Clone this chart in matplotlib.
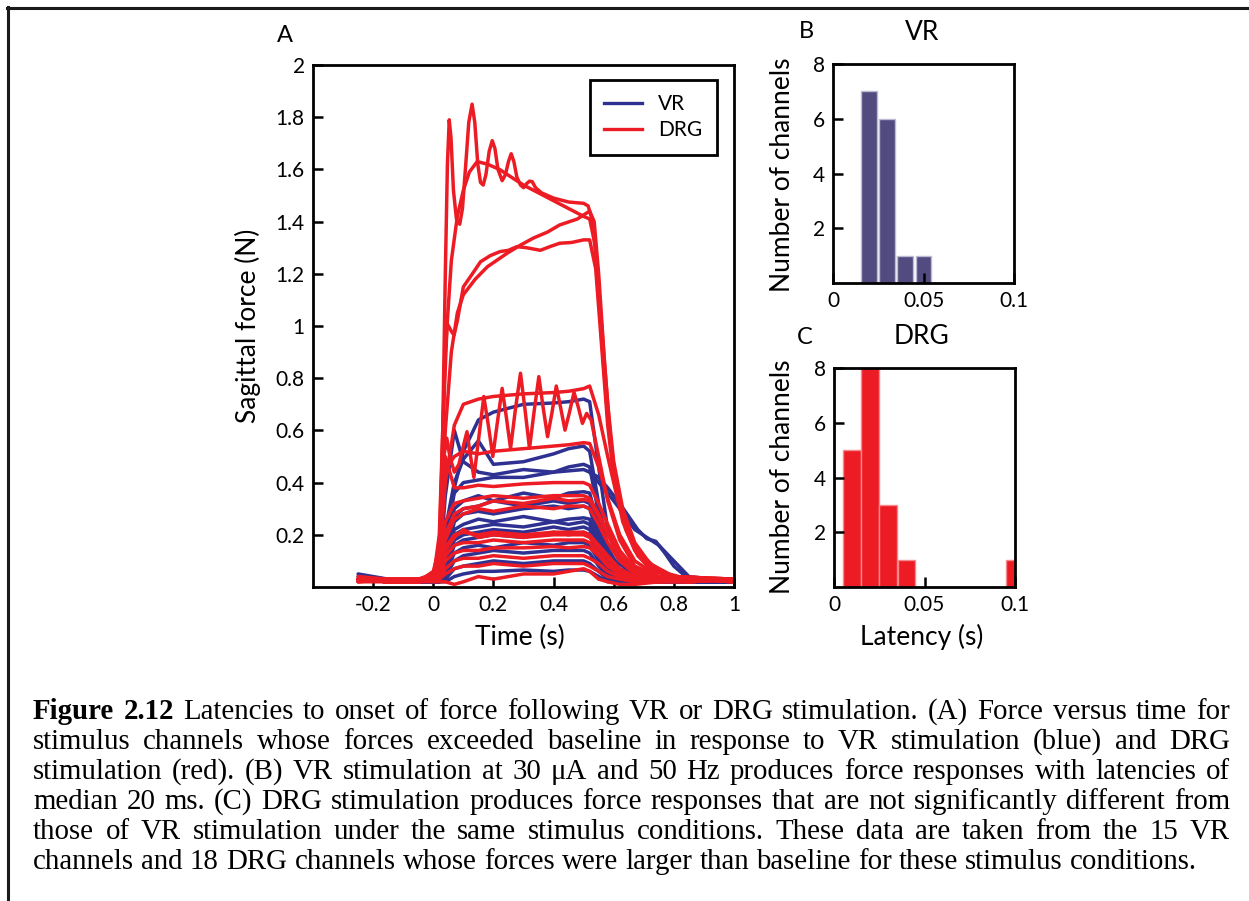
import matplotlib
matplotlib.use('Agg')
import matplotlib.pyplot as plt
from matplotlib.lines import Line2D

plt.rcParams['font.family'] = ['Lato', 'DejaVu Sans']

W, H = 1249, 901

# ---- panel A: force traces (s, N) ----
grid_t = [-0.25, -0.15, -0.05, 0.0, 0.02, 0.04, 0.07, 0.1, 0.15, 0.2, 0.3,
          0.4, 0.45, 0.5, 0.52, 0.55, 0.58, 0.62, 0.67, 0.75, 0.85, 1.0]

vr_force = [
    [0.05, 0.03, 0.02, 0.02, 0.03, 0.14, 0.38, 0.52, 0.64, 0.67, 0.70, 0.705, 0.71, 0.72, 0.71, 0.46, 0.22, 0.09, 0.04, 0.03, 0.02, 0.02],
    [0.04, 0.03, 0.02, 0.02, 0.05, 0.35, 0.60, 0.48, 0.44, 0.43, 0.45, 0.44, 0.46, 0.47, 0.46, 0.28, 0.13, 0.06, 0.03, 0.03, 0.02, 0.02],
    [0.03, 0.02, 0.02, 0.02, 0.04, 0.22, 0.40, 0.49, 0.56, 0.47, 0.48, 0.51, 0.53, 0.54, 0.52, 0.32, 0.15, 0.07, 0.04, 0.03, 0.02, 0.02],
    [0.03, 0.02, 0.02, 0.02, 0.03, 0.18, 0.36, 0.40, 0.41, 0.42, 0.42, 0.44, 0.445, 0.45, 0.44, 0.40, 0.36, 0.30, 0.22, 0.16, 0.04, 0.02],
    [0.03, 0.02, 0.02, 0.02, 0.03, 0.15, 0.30, 0.33, 0.35, 0.33, 0.36, 0.34, 0.36, 0.365, 0.36, 0.23, 0.11, 0.05, 0.03, 0.02, 0.02, 0.02],
    [0.03, 0.02, 0.02, 0.02, 0.03, 0.12, 0.27, 0.30, 0.31, 0.33, 0.31, 0.33, 0.32, 0.33, 0.32, 0.21, 0.10, 0.05, 0.03, 0.02, 0.02, 0.02],
    [0.03, 0.02, 0.02, 0.02, 0.03, 0.10, 0.25, 0.28, 0.29, 0.28, 0.30, 0.31, 0.30, 0.31, 0.30, 0.19, 0.09, 0.04, 0.03, 0.02, 0.02, 0.02],
    [0.03, 0.02, 0.02, 0.02, 0.03, 0.09, 0.22, 0.24, 0.26, 0.25, 0.27, 0.25, 0.26, 0.265, 0.26, 0.16, 0.08, 0.04, 0.03, 0.02, 0.02, 0.02],
    [0.03, 0.02, 0.02, 0.02, 0.02, 0.08, 0.20, 0.22, 0.23, 0.24, 0.23, 0.25, 0.24, 0.25, 0.24, 0.15, 0.07, 0.04, 0.03, 0.02, 0.02, 0.02],
    [0.03, 0.02, 0.02, 0.02, 0.02, 0.07, 0.18, 0.20, 0.21, 0.22, 0.21, 0.23, 0.22, 0.23, 0.22, 0.14, 0.07, 0.04, 0.02, 0.02, 0.02, 0.02],
    [0.03, 0.02, 0.02, 0.02, 0.02, 0.06, 0.16, 0.18, 0.19, 0.20, 0.19, 0.21, 0.20, 0.21, 0.20, 0.12, 0.06, 0.03, 0.02, 0.02, 0.02, 0.02],
    [0.03, 0.02, 0.02, 0.02, 0.02, 0.05, 0.13, 0.15, 0.16, 0.15, 0.17, 0.16, 0.17, 0.17, 0.16, 0.10, 0.05, 0.03, 0.02, 0.02, 0.02, 0.02],
    [0.03, 0.02, 0.02, 0.02, 0.02, 0.04, 0.10, 0.12, 0.13, 0.14, 0.13, 0.14, 0.14, 0.14, 0.13, 0.08, 0.04, 0.03, 0.02, 0.02, 0.02, 0.02],
    [0.03, 0.02, 0.02, 0.02, 0.02, 0.03, 0.07, 0.08, 0.09, 0.10, 0.09, 0.10, 0.10, 0.10, 0.09, 0.06, 0.03, 0.02, 0.02, 0.02, 0.02, 0.02],
    [0.03, 0.02, 0.02, 0.02, 0.02, 0.02, 0.04, 0.05, 0.06, 0.06, 0.065, 0.06, 0.065, 0.065, 0.06, 0.04, 0.02, 0.02, 0.02, 0.02, 0.02, 0.02],
]

drg_force = [
    [0.03, 0.02, 0.03, 0.04, 0.10, 0.40, 0.62, 0.70, 0.72, 0.73, 0.74, 0.745, 0.75, 0.76, 0.77, 0.66, 0.50, 0.30, 0.15, 0.06, 0.03, 0.03],
    [0.04, 0.03, 0.02, 0.06, 0.15, 0.45, 0.50, 0.52, 0.51, 0.52, 0.53, 0.54, 0.545, 0.553, 0.55, 0.46, 0.34, 0.20, 0.10, 0.04, 0.03, 0.02],
    [0.03, 0.02, 0.03, 0.05, 0.12, 0.50, 0.38, 0.38, 0.39, 0.385, 0.395, 0.40, 0.40, 0.40, 0.39, 0.32, 0.24, 0.14, 0.07, 0.03, 0.02, 0.03],
    [0.03, 0.02, 0.02, 0.03, 0.08, 0.25, 0.32, 0.33, 0.34, 0.35, 0.34, 0.35, 0.35, 0.35, 0.34, 0.28, 0.21, 0.12, 0.06, 0.03, 0.03, 0.02],
    [0.02, 0.03, 0.02, 0.03, 0.06, 0.20, 0.28, 0.30, 0.31, 0.33, 0.32, 0.34, 0.33, 0.335, 0.33, 0.27, 0.20, 0.11, 0.05, 0.03, 0.02, 0.03],
    [0.03, 0.02, 0.03, 0.04, 0.06, 0.18, 0.26, 0.28, 0.30, 0.29, 0.31, 0.30, 0.31, 0.31, 0.30, 0.24, 0.17, 0.10, 0.05, 0.03, 0.03, 0.03],
    [0.03, 0.02, 0.02, 0.03, 0.05, 0.15, 0.20, 0.21, 0.20, 0.21, 0.20, 0.21, 0.21, 0.21, 0.20, 0.16, 0.12, 0.07, 0.04, 0.03, 0.02, 0.03],
    [0.02, 0.03, 0.02, 0.03, 0.05, 0.14, 0.19, 0.22, 0.19, 0.20, 0.19, 0.20, 0.20, 0.20, 0.19, 0.15, 0.11, 0.06, 0.03, 0.03, 0.03, 0.02],
    [0.03, 0.02, 0.02, 0.03, 0.04, 0.12, 0.16, 0.17, 0.17, 0.18, 0.17, 0.18, 0.18, 0.18, 0.17, 0.13, 0.09, 0.05, 0.03, 0.02, 0.03, 0.03],
    [0.03, 0.02, 0.03, 0.04, 0.04, 0.10, 0.13, 0.14, 0.14, 0.15, 0.15, 0.155, 0.15, 0.155, 0.15, 0.12, 0.08, 0.05, 0.03, 0.02, 0.02, 0.03],
    [0.02, 0.02, 0.02, 0.03, 0.03, 0.07, 0.10, 0.11, 0.11, 0.12, 0.11, 0.12, 0.12, 0.12, 0.11, 0.09, 0.06, 0.04, 0.02, 0.02, 0.03, 0.02],
    [0.03, 0.02, 0.02, 0.03, 0.03, 0.05, 0.07, 0.08, 0.08, 0.09, 0.08, 0.09, 0.09, 0.09, 0.08, 0.06, 0.04, 0.03, 0.02, 0.02, 0.02, 0.03],
    [0.03, 0.02, 0.02, 0.02, 0.02, 0.02, 0.01, 0.02, 0.04, 0.03, 0.05, 0.05, 0.06, 0.07, 0.06, 0.03, 0.02, 0.01, 0.01, 0.02, 0.03, 0.03],
]

# slow-relaxing VR channel
vr_tail_t = [0.52, 0.55, 0.58, 0.62, 0.65, 0.68, 0.71, 0.74, 0.77, 0.8, 0.83, 0.87, 0.92, 1.0]
vr_tail_f = [0.44, 0.42, 0.38, 0.32, 0.27, 0.22, 0.185, 0.175, 0.13, 0.08, 0.05, 0.03, 0.02, 0.02]

# large DRG responses, sampled on their own time points
drg_big_t = [
    [-0.25, -0.1, 0.0, 0.02, 0.03, 0.04, 0.047, 0.053, 0.059, 0.067, 0.077, 0.088, 0.097,
     0.108, 0.118, 0.129, 0.138, 0.148, 0.157, 0.166, 0.175, 0.186, 0.196, 0.205, 0.215,
     0.229, 0.24, 0.25, 0.259, 0.268, 0.278, 0.29, 0.3, 0.31, 0.32, 0.329, 0.34, 0.36, 0.4,
     0.45, 0.5, 0.515, 0.53, 0.545, 0.56, 0.58, 0.6, 0.63, 0.67, 0.72, 0.8, 0.9, 1.0],
    [-0.25, 0.0, 0.02, 0.04, 0.06, 0.08, 0.1, 0.12, 0.146, 0.18, 0.22, 0.26, 0.3, 0.35, 0.4,
     0.45, 0.5, 0.52, 0.54, 0.56, 0.58, 0.6, 0.63, 0.67, 0.72, 0.8, 1.0],
    [-0.25, 0.0, 0.02, 0.035, 0.046, 0.06, 0.069, 0.08, 0.1, 0.13, 0.157, 0.19, 0.222, 0.25,
     0.278, 0.31, 0.356, 0.39, 0.42, 0.46, 0.5, 0.52, 0.54, 0.56, 0.58, 0.6, 0.63, 0.67, 0.72,
     0.8, 1.0],
    [-0.25, 0.0, 0.02, 0.04, 0.06, 0.08, 0.1, 0.14, 0.18, 0.247, 0.29, 0.333, 0.38, 0.42,
     0.479, 0.506, 0.52, 0.535, 0.55, 0.57, 0.59, 0.61, 0.64, 0.68, 0.73, 0.8, 1.0],
]
drg_big_f = [
    [0.03, 0.02, 0.03, 0.05, 0.5, 1.2, 1.62, 1.79, 1.72, 1.52, 1.41, 1.39, 1.45,
     1.62, 1.78, 1.85, 1.78, 1.62, 1.55, 1.54, 1.58, 1.67, 1.71, 1.68, 1.60,
     1.557, 1.58, 1.63, 1.66, 1.63, 1.57, 1.54, 1.53, 1.545, 1.555, 1.553, 1.53, 1.51, 1.49,
     1.475, 1.47, 1.46, 1.40, 1.20, 0.95, 0.65, 0.45, 0.28, 0.16, 0.08, 0.04, 0.03, 0.03],
    [0.03, 0.03, 0.2, 0.9, 1.25, 1.42, 1.52, 1.59, 1.63, 1.62, 1.60, 1.57, 1.54, 1.51, 1.48,
     1.45, 1.42, 1.41, 1.30, 1.00, 0.70, 0.48, 0.30, 0.17, 0.09, 0.04, 0.03],
    [0.03, 0.03, 0.15, 0.7, 1.01, 0.98, 0.965, 1.02, 1.15, 1.20, 1.246, 1.27, 1.285, 1.29,
     1.304, 1.30, 1.29, 1.305, 1.317, 1.32, 1.33, 1.33, 1.22, 0.92, 0.62, 0.42, 0.25, 0.14, 0.07,
     0.04, 0.03],
    [0.03, 0.03, 0.1, 0.6, 0.9, 1.05, 1.12, 1.18, 1.227, 1.28, 1.31, 1.337, 1.36, 1.387,
     1.41, 1.43, 1.44, 1.40, 1.20, 0.85, 0.56, 0.38, 0.22, 0.12, 0.06, 0.04, 0.03],
]

# oscillating mid-range DRG channel
drg_osc_t = [-0.25, 0.0, 0.02, 0.035, 0.045, 0.055, 0.07, 0.085, 0.1, 0.112, 0.124, 0.135,
             0.15, 0.168, 0.183, 0.198, 0.213, 0.229, 0.243, 0.257, 0.273, 0.29, 0.305, 0.32,
             0.335, 0.351, 0.365, 0.38, 0.395, 0.409, 0.423, 0.438, 0.453, 0.468, 0.482, 0.496,
             0.51, 0.525, 0.55, 0.58, 0.62, 0.67, 0.75, 0.9, 1.0]
drg_osc_f = [0.03, 0.03, 0.1, 0.50, 0.57, 0.50, 0.44, 0.47, 0.54, 0.595, 0.50, 0.42,
             0.56, 0.73, 0.62, 0.50, 0.63, 0.761, 0.65, 0.531, 0.68, 0.819, 0.68, 0.531,
             0.67, 0.806, 0.69, 0.576, 0.67, 0.77, 0.69, 0.601, 0.67, 0.746, 0.69, 0.627,
             0.665, 0.64, 0.50, 0.33, 0.18, 0.08, 0.04, 0.03, 0.03]

# ---- panels B and C: latency histograms ----
vr_latency = [0.02, 0.03, 0.04, 0.05]
vr_count = [7, 6, 1, 1]
drg_latency = [0.01, 0.02, 0.03, 0.04, 0.10]
drg_count = [5, 8, 3, 1, 1]

caption = [
    "Figure 2.12 Latencies to onset of force following VR or DRG stimulation. (A) Force versus time for",
    "stimulus channels whose forces exceeded baseline in response to VR stimulation (blue) and DRG",
    "stimulation (red). (B) VR stimulation at 30 \u03bcA and 50 Hz produces force responses with latencies of",
    "median 20 ms. (C) DRG stimulation produces force responses that are not significantly different from",
    "those of VR stimulation under the same stimulus conditions. These data are taken from the 15 VR",
    "channels and 18 DRG channels whose forces were larger than baseline for these stimulus conditions.",
]

blue = '#2e3192'
red = '#ed1c24'
slate = '#514b80'


def fx(px):
    return px / W


def fy(py):
    return 1 - py / H


def style_axes(ax):
    for s in ax.spines.values():
        s.set_linewidth(2.0)
    ax.tick_params(direction='in', length=7, width=1.8, labelsize=15, pad=6)


fig = plt.figure(figsize=(W / 100, H / 100), dpi=100)

# ---- A ----
axA = fig.add_axes([fx(313), fy(587), fx(734) - fx(313), fy(65) - fy(587)])
tr = dict(lw=2.5, solid_joinstyle='round', solid_capstyle='round')
for f in vr_force:
    axA.plot(grid_t, f, color=blue, **tr)
axA.plot(vr_tail_t, vr_tail_f, color=blue, **tr)
for f in drg_force:
    axA.plot(grid_t, f, color=red, **tr)
for t, f in zip(drg_big_t, drg_big_f):
    axA.plot(t, f, color=red, **tr)
axA.plot(drg_osc_t, drg_osc_f, color=red, **tr)
axA.set_xlim(-0.4, 1.0)
axA.set_ylim(0, 2)
axA.set_xticks([-0.2, 0, 0.2, 0.4, 0.6, 0.8, 1.0])
axA.set_xticklabels(['-0.2', '0', '0.2', '0.4', '0.6', '0.8', '1'])
axA.set_yticks([0.2, 0.4, 0.6, 0.8, 1.0, 1.2, 1.4, 1.6, 1.8, 2.0])
axA.set_yticklabels(['0.2', '0.4', '0.6', '0.8', '1', '1.2', '1.4', '1.6', '1.8', '2'])
style_axes(axA)
handles = [Line2D([], [], color=blue, lw=2.4), Line2D([], [], color=red, lw=2.4)]
leg = axA.legend(handles, ['VR', 'DRG'], loc='upper right', bbox_to_anchor=(0.96, 0.972),
                 borderaxespad=0, fontsize=15, handlelength=1.8, handletextpad=0.8,
                 fancybox=False, framealpha=1, borderpad=0.7, labelspacing=0.3)
leg.get_frame().set_edgecolor('black')
leg.get_frame().set_linewidth(2.0)

# ---- B ----
axB = fig.add_axes([fx(833), fy(283), fx(1014) - fx(833), fy(64) - fy(283)])
axB.bar(vr_latency, vr_count, width=0.0088, color=slate, edgecolor='#bdbad3', linewidth=1)
axB.set_xlim(0, 0.1)
axB.set_ylim(0, 8)
axB.set_xticks([0, 0.05, 0.1])
axB.set_xticklabels(['0', '0.05', '0.1'])
axB.set_yticks([2, 4, 6, 8])
style_axes(axB)

# ---- C ----
axC = fig.add_axes([fx(834), fy(587), fx(1015) - fx(834), fy(368) - fy(587)])
axC.bar(drg_latency, drg_count, width=0.0098, color=red, edgecolor='#f48a8e', linewidth=1)
axC.set_xlim(0, 0.1)
axC.set_ylim(0, 8)
axC.set_xticks([0, 0.05, 0.1])
axC.set_xticklabels(['0', '0.05', '0.1'])
axC.set_yticks([2, 4, 6, 8])
style_axes(axC)

# labels
lab = dict(fontsize=19, ha='center', va='center')
fig.text(fx(520), fy(637), 'Time (s)', **lab)
fig.text(fx(248), fy(326), 'Sagittal force (N)', rotation=90, **lab)
fig.text(fx(783), fy(175), 'Number of channels', rotation=90, **lab)
fig.text(fx(783), fy(477), 'Number of channels', rotation=90, **lab)
fig.text(fx(922), fy(637), 'Latency (s)', **lab)
fig.text(fx(922), fy(32), 'VR', **lab)
fig.text(fx(922), fy(337), 'DRG', **lab)
fig.text(fx(285), fy(35), 'A', fontsize=17, ha='center', va='center')
fig.text(fx(806), fy(32), 'B', fontsize=17, ha='center', va='center')
fig.text(fx(805), fy(337), 'C', fontsize=17, ha='center', va='center')

# page border (top and left rules)
fig.add_artist(Line2D([fx(7), 1], [fy(8), fy(8)], color='#1a1a1a', lw=2.2))
fig.add_artist(Line2D([fx(8), fx(8)], [fy(7), 0], color='#1a1a1a', lw=2.2))

# caption, justified line by line
fig.canvas.draw()
renderer = fig.canvas.get_renderer()
left, right = 33, 1230
cap_kw = dict(fontsize=20.8, family='Liberation Serif', va='baseline', ha='left')
space = (fig.text(0, 0, 'a a', **cap_kw).get_window_extent(renderer).width
         - fig.text(0, 0, 'aa', **cap_kw).get_window_extent(renderer).width)
fig.texts[-1].remove()
fig.texts[-1].remove()
for i, line in enumerate(caption):
    y = fy(719 + 30 * i)
    words = line.split(' ')
    items = []
    for j, w in enumerate(words):
        weight = 'bold' if (i == 0 and j < 2) else 'normal'
        items.append(fig.text(0, y, w, fontweight=weight, **cap_kw))
    widths = [t.get_window_extent(renderer).width for t in items]
    if i < len(caption) - 1:
        gap = max((right - left - sum(widths)) / (len(words) - 1), 0.6 * space)
    else:
        gap = space
    x = left
    for t, w in zip(items, widths):
        t.set_x(fx(x))
        x += w + gap

fig.savefig('out.png', dpi=100)
